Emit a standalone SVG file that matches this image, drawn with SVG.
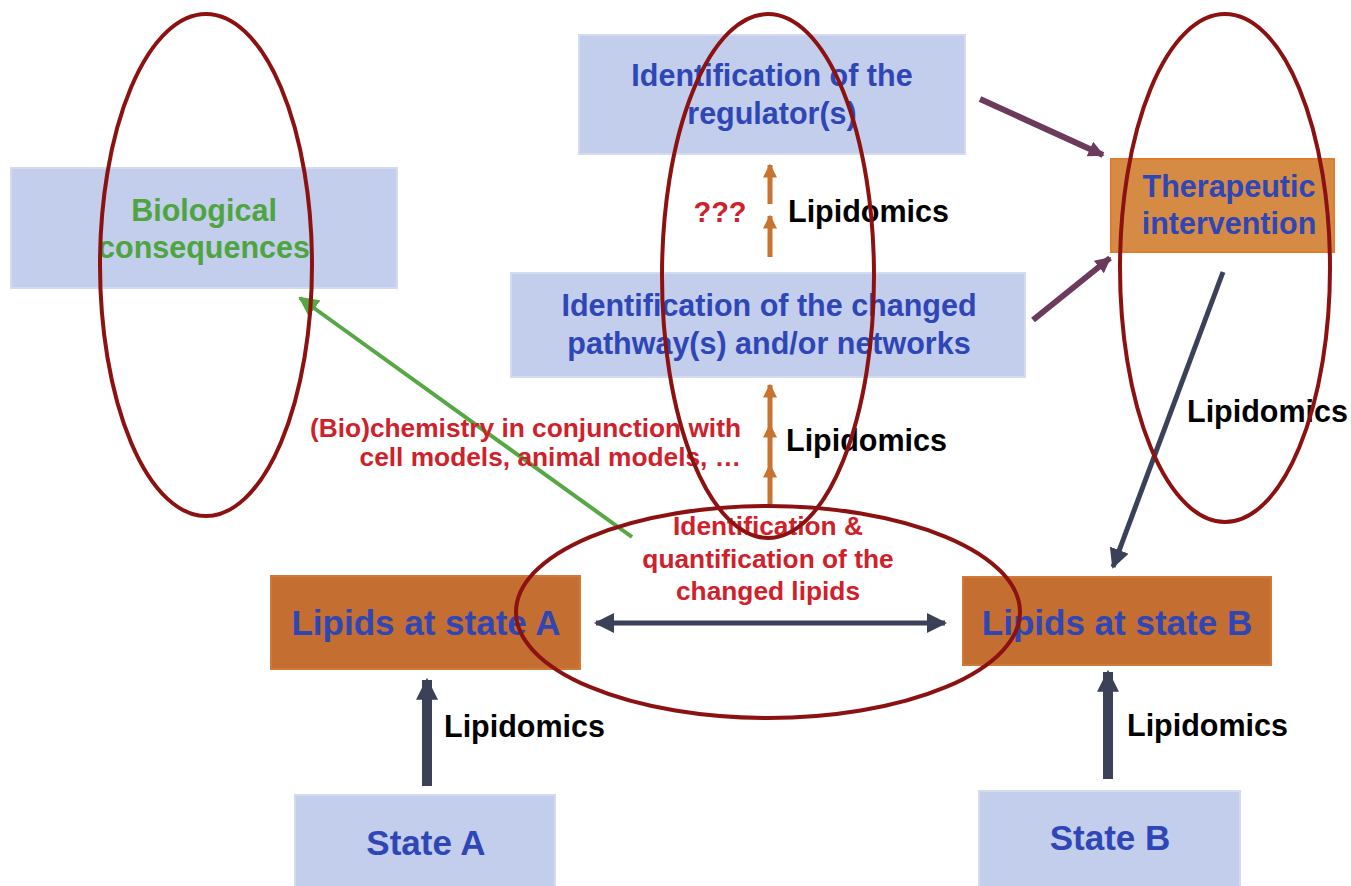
<svg xmlns="http://www.w3.org/2000/svg" width="1351" height="886" viewBox="0 0 1351 886">
<defs>
<style>
text{font-family:"Liberation Sans",Arial,sans-serif;font-weight:bold;}
.lb{fill:#c3cdec;stroke:#d3dbf0;stroke-width:2;}
.or{fill:#c46e31;stroke:#d07a38;stroke-width:2;}
.or2{fill:#d68b45;stroke:#e27c2e;stroke-width:2;}
.bt{fill:#2e46b6;font-size:30.5px;text-anchor:middle;}
.bb{fill:#2e46b6;font-size:35px;text-anchor:middle;}
.gt{fill:#4ea53f;font-size:30.5px;text-anchor:middle;}
.rt{fill:#d0212b;font-size:26.3px;}
.kt{fill:#000;font-size:30.5px;}
.ell{fill:none;stroke:#8c1111;stroke-width:4;}
.nv{stroke:#3a4158;fill:none;}
.pu{stroke:#6b3a5c;stroke-width:6;fill:none;}
.oa{stroke:#c8732f;stroke-width:5;fill:none;}
</style>
<marker id="mNavy" viewBox="0 0 10 10" refX="9" refY="5" markerWidth="20" markerHeight="20" markerUnits="userSpaceOnUse" orient="auto-start-reverse"><path d="M0,0 L10,5 L0,10 Z" fill="#3a4158"/></marker>
<marker id="mNavyBig" viewBox="0 0 10 10" refX="9" refY="5" markerWidth="22" markerHeight="22" markerUnits="userSpaceOnUse" orient="auto"><path d="M0,0 L10,5 L0,10 Z" fill="#3a4158"/></marker>
<marker id="mPur" viewBox="0 0 10 10" refX="9" refY="5" markerWidth="16" markerHeight="16" markerUnits="userSpaceOnUse" orient="auto"><path d="M0,0 L10,5 L0,10 Z" fill="#6b3a5c"/></marker>
<marker id="mGrn" viewBox="0 0 10 10" refX="9" refY="5" markerWidth="20" markerHeight="20" markerUnits="userSpaceOnUse" orient="auto"><path d="M0,0 L10,5 L0,10 Z" fill="#55a844"/></marker>
<marker id="mOr" viewBox="0 0 10 10" refX="9" refY="5" markerWidth="14" markerHeight="14" markerUnits="userSpaceOnUse" orient="auto"><path d="M0,0 L10,5 L0,10 Z" fill="#c8732f"/></marker>
</defs>
<rect width="1351" height="886" fill="#fff"/>

<g id="bio"><rect class="lb" x="11" y="168" width="386" height="120"/><text class="gt" x="204" y="221">Biological</text><text class="gt" x="204" y="258">consequences</text></g>
<g id="regulator"><rect class="lb" x="579" y="35" width="386" height="119"/><text class="bt" x="772" y="86">Identification of the</text><text class="bt" x="772" y="124">regulator(s)</text></g>
<g id="pathway"><rect class="lb" x="511" y="273" width="514" height="104"/><text class="bt" x="769" y="316">Identification of the changed</text><text class="bt" x="769" y="354">pathway(s) and/or networks</text></g>
<g id="therapeutic"><rect class="or2" x="1111" y="159" width="223" height="93"/><text class="bt" x="1229" y="197">Therapeutic</text><text class="bt" x="1229" y="234">intervention</text></g>
<g id="lipidsA"><rect class="or" x="271" y="576" width="309" height="93"/><text class="bb" x="426" y="635">Lipids at state A</text></g>
<g id="lipidsB"><rect class="or" x="963" y="577" width="308" height="88"/><text class="bb" x="1117" y="635">Lipids at state B</text></g>
<g id="stateA"><rect class="lb" x="295" y="795" width="260" height="95"/><text class="bb" x="426" y="855">State A</text></g>
<g id="stateB"><rect class="lb" x="979" y="791" width="261" height="99"/><text class="bb" x="1110" y="850">State B</text></g>

<g id="connectors">
<line class="oa" x1="770" y1="257" x2="770" y2="216" marker-end="url(#mOr)"/>
<line class="oa" x1="770" y1="204" x2="770" y2="165" marker-end="url(#mOr)"/>
<line class="oa" x1="770" y1="504" x2="770" y2="465" marker-end="url(#mOr)"/>
<line class="oa" x1="770" y1="465" x2="770" y2="425" marker-end="url(#mOr)"/>
<line class="oa" x1="770" y1="425" x2="770" y2="385" marker-end="url(#mOr)"/>
<line class="pu" x1="980" y1="99" x2="1103" y2="155" marker-end="url(#mPur)"/>
<line class="pu" x1="1033" y1="320" x2="1110" y2="258" marker-end="url(#mPur)"/>
<line class="nv" stroke-width="5" x1="1223" y1="272" x2="1113" y2="567" marker-end="url(#mNavy)"/>
<line stroke="#55a844" stroke-width="4" x1="632" y1="537" x2="300" y2="298" marker-end="url(#mGrn)"/>
<line class="nv" stroke-width="5" x1="596" y1="623" x2="945" y2="623" marker-start="url(#mNavy)" marker-end="url(#mNavy)"/>
<line class="nv" stroke-width="10" x1="427" y1="786" x2="427" y2="680" marker-end="url(#mNavyBig)"/>
<line class="nv" stroke-width="10" x1="1108" y1="779" x2="1108" y2="672" marker-end="url(#mNavyBig)"/>
</g>

<g id="labels">
<text class="rt" x="720" y="222" text-anchor="middle" style="font-size:29px">???</text>
<text class="kt" x="788" y="222">Lipidomics</text>
<text class="kt" x="786" y="451">Lipidomics</text>
<text class="kt" x="1187" y="422">Lipidomics</text>
<text class="kt" x="444" y="737">Lipidomics</text>
<text class="kt" x="1127" y="736">Lipidomics</text>
<text class="rt" x="741" y="437" text-anchor="end">(Bio)chemistry in conjunction with</text>
<text class="rt" x="741" y="466" text-anchor="end">cell models, animal models, …</text>
<text class="rt" x="768" y="535" text-anchor="middle">Identification &amp;</text>
<text class="rt" x="768" y="568" text-anchor="middle">quantification of the</text>
<text class="rt" x="768" y="600" text-anchor="middle">changed lipids</text>
</g>

<g id="ellipses">
<ellipse class="ell" cx="206" cy="265" rx="106" ry="251"/>
<ellipse class="ell" cx="768" cy="276" rx="106" ry="262"/>
<ellipse class="ell" cx="1225" cy="268" rx="105" ry="254"/>
<ellipse class="ell" cx="768" cy="612" rx="252" ry="106"/>
</g>
</svg>
